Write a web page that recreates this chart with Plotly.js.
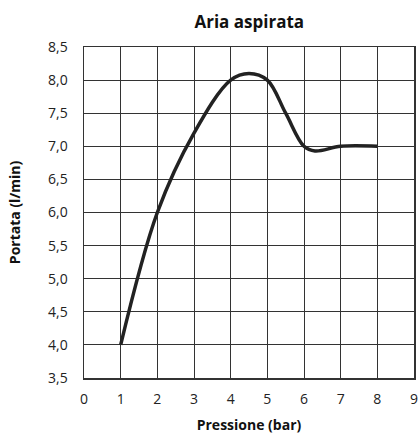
<!DOCTYPE html>
<html><head><meta charset="utf-8">
<script src="https://cdn.plot.ly/plotly-3.0.1.min.js"></script>
<style>html,body{margin:0;padding:0;background:#fff}#c{width:419px;height:434px}</style>
</head><body><div id="c"></div>
<script>
const pressione = [1, 2, 3, 4, 4.5, 5, 5.5, 6, 6.3, 7, 8];
const portata   = [4.0, 6.0, 7.2, 8.0, 8.1, 8.0, 7.5, 7.0, 6.93, 7.0, 7.0];
const xTicks = [0,1,2,3,4,5,6,7,8,9];
const yTicks = [3.5,4.0,4.5,5.0,5.5,6.0,6.5,7.0,7.5,8.0,8.5];

const font = "Open Sans, Lato, sans-serif";
Plotly.newPlot('c', [{
  x: pressione, y: portata, type: 'scatter', mode: 'lines',
  line: {color: '#222', width: 3.5, shape: 'spline', smoothing: 1},
  hoverinfo: 'skip'
}], {
  width: 419, height: 434,
  margin: {l: 84, r: 5, t: 47, b: 56},
  separators: ',.',
  paper_bgcolor: '#fff', plot_bgcolor: '#fff',
  showlegend: false,
  title: {text: '<b>Aria aspirata</b>', x: 0.595, xanchor: 'center', y: 0.95, yanchor: 'middle',
          font: {family: font, size: 17, color: '#111'}},
  xaxis: {range: [0, 9], tickvals: xTicks, ticktext: xTicks.map(String),
          showgrid: true, gridcolor: '#333', gridwidth: 1, zeroline: false,
          showline: true, linecolor: '#333', linewidth: 1.5, mirror: true,
          ticks: '', ticklabelstandoff: 8,
          tickfont: {family: font, size: 14, color: '#222'},
          title: {text: '<b>Pressione (bar)</b>', standoff: 14, font: {family: font, size: 14, color: '#111'}}},
  yaxis: {range: [3.5, 8.5], tickvals: yTicks, tickformat: '.1f',
          showgrid: true, gridcolor: '#333', gridwidth: 1, zeroline: false,
          showline: true, linecolor: '#333', linewidth: 1.5, mirror: true,
          ticks: '', ticklabelstandoff: 12,
          tickfont: {family: font, size: 14, color: '#222'},
          title: {text: '<b>Portata (l/min)</b>', standoff: 24, font: {family: font, size: 14, color: '#111'}}}
}, {staticPlot: true});
</script></body></html>
